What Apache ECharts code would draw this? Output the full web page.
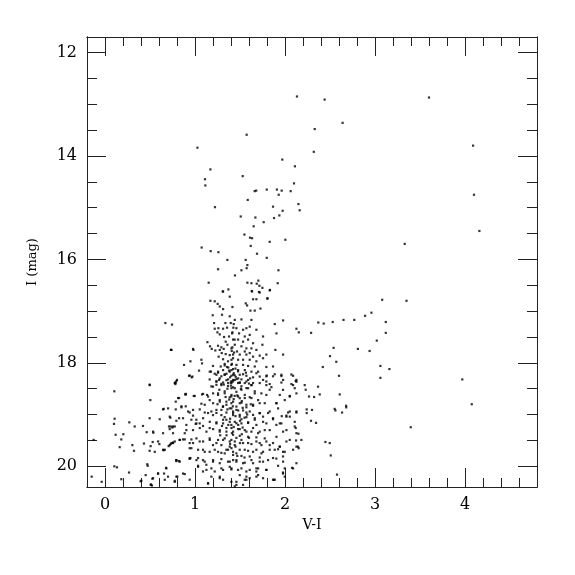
<!DOCTYPE html>
<html><head><meta charset="utf-8">
<script src="https://cdn.jsdelivr.net/npm/echarts@6/dist/echarts.min.js"></script>
<style>html,body{margin:0;padding:0;background:#fff}#c{width:575px;height:575px}</style>
</head><body><div id="c"></div>
<script>
// Tick labels
const xTicks = [0, 1, 2, 3, 4];
const yTicks = [12, 14, 16, 18, 20];

// Stars [V-I, I]
const giantBranch = [
[2.133,12.85],[2.44,12.91],[3.60,12.87],[2.64,13.36],[2.33,13.48],[2.32,13.92],[1.574,13.59],[1.027,13.84],
[1.97,14.07],[2.11,14.2],[1.171,14.26],[1.111,14.45],[1.115,14.57],[1.53,14.39],[2.10,14.53],[1.663,14.68],
[1.68,14.67],[1.797,14.65],[1.91,14.65],[1.963,14.67],[2.063,14.68],[1.93,14.75],[1.586,14.85],[2.149,14.93],
[2.163,15.05],[1.222,14.99],[1.867,14.98],[1.974,15.06],[1.508,15.17],[1.671,15.19],[1.937,15.15],[1.878,15.2],
[1.763,15.28],[1.652,15.36],[1.549,15.52],[1.611,15.58],[1.634,15.59],[1.83,15.66],[2.004,15.62],[1.619,15.74],
[1.074,15.77],[1.174,15.84],[1.26,15.86],[1.689,15.89],[1.797,15.97],[1.36,16.01],[1.563,16.01],[1.582,16.11],
[1.574,16.17],[1.256,16.19],[1.516,16.21],[1.927,16.21],[1.444,16.31],[1.152,16.45],[1.582,16.45],[1.627,16.46],
[1.686,16.47],[1.704,16.41],[1.716,16.51],[1.919,16.46],[1.749,16.55],[1.371,16.58],[1.308,16.62],[1.63,16.61],
[1.711,16.63],[1.833,16.59],[1.804,16.76],[4.09,13.8],[4.10,14.75],[4.16,15.45],[3.33,15.7],[3.35,16.8]
];

const redClump = [
[2.29,17.42],[2.37,17.22],[2.43,17.24],[2.53,17.21],[2.65,17.17],[2.77,17.17],[2.89,17.09],[2.96,17.03],
[3.08,16.78],[3.12,17.21],[3.12,17.42],[3.02,17.57],[2.94,17.77],[2.54,17.71],[2.50,17.87],[2.57,17.98],
[2.42,18.08],[3.06,18.06],[3.06,18.29],[3.16,18.12],[2.81,17.73],[2.60,18.25],[2.23,18.52],
[2.608,18.61],[2.552,18.89],[2.56,18.92],[2.634,18.96],[2.679,18.83],[2.68,18.86],[2.449,19.53],[2.497,19.55],
[2.508,19.79],[2.578,20.16],[3.397,19.245],[4.075,18.80],[3.97,18.32],[2.367,18.46],[2.386,18.61],[2.323,18.66],
[2.267,18.65],[2.219,18.43],[2.241,18.90],[2.241,18.97],[2.30,18.91],[2.289,19.12],[2.345,19.16],[2.078,20.03],
[1.978,20.12],[1.875,20.26],[2.152,19.65],[2.182,19.49],[2.123,19.50],[2.119,19.26],[2.149,19.37],[2.071,18.41],
[2.119,18.35],[1.964,19.03],[2.015,19.02]
];

const coreUpperLeft = [
[1.312,16.62],[1.386,16.72],[1.171,16.80],[1.219,16.81],[1.252,16.86],[1.275,16.91],[1.312,16.96],[1.197,17.08],
[1.300,17.07],[1.386,17.10],[1.212,17.23],[0.745,17.26],[0.671,17.23],[1.338,17.23],[1.430,17.25],[1.356,17.32],
[1.219,17.34],[1.260,17.33],[1.312,17.34],[1.426,17.32],[1.249,17.41],[1.275,17.45],[1.412,17.43],[1.378,17.49],
[1.323,17.50],[1.441,17.55],[1.138,17.60],[1.341,17.59],[1.360,17.65],[1.167,17.68],[1.256,17.67],[1.293,17.70],
[1.415,17.70],[1.186,17.73],[1.226,17.76],[1.275,17.75],[1.319,17.73],[0.738,17.75],[0.982,17.75],[1.408,17.77],
[1.297,17.81],[1.341,17.83],[1.386,17.85],[1.434,17.80],[1.263,17.88],[1.312,17.93],[1.423,17.91],[1.071,17.94],
[1.078,18.01],[0.949,17.97],[0.878,18.04],[1.367,17.97],[1.200,18.06],[1.404,18.04],[1.330,18.02],[1.286,18.07],
[1.356,18.08],[1.178,18.17],[1.256,18.17],[1.312,18.14],[1.378,18.15],[1.423,18.12],[1.045,18.15],[1.238,18.23],
[1.330,18.23],[1.404,18.25],[0.934,18.25],[0.963,18.28],[0.800,18.33],[0.782,18.39],[1.163,18.32],[1.275,18.30],
[1.367,18.32],[1.423,18.33],[1.238,18.36],[1.312,18.38],[1.267,18.33],[1.397,18.38]
];

const coreUpperRight = [
[1.634,16.62],[1.719,16.64],[1.830,16.60],[1.564,16.85],[1.579,16.89],[1.645,16.77],[1.682,16.77],[1.616,16.99],
[1.664,16.99],[1.727,16.95],[1.805,16.75],[1.416,16.92],[1.516,17.16],[1.627,17.17],[1.442,17.17],[1.397,17.23],
[1.886,17.25],[1.979,17.18],[2.127,17.34],[2.153,17.41],[1.460,17.33],[1.534,17.36],[1.571,17.33],[1.608,17.30],
[1.682,17.36],[1.416,17.41],[1.490,17.43],[1.553,17.49],[1.608,17.46],[1.905,17.43],[1.756,17.49],[1.423,17.55],
[1.479,17.55],[1.534,17.59],[1.590,17.55],[1.645,17.62],[1.749,17.65],[1.442,17.65],[1.516,17.68],[1.571,17.72],
[1.405,17.72],[1.627,17.72],[1.467,17.78],[1.553,17.78],[1.608,17.81],[1.682,17.75],[1.893,17.75],[1.423,17.84],
[1.497,17.84],[1.571,17.84],[1.645,17.88],[1.719,17.86],[1.793,17.84],[1.979,17.84],[1.405,17.94],[1.479,17.94],
[1.534,17.94],[1.608,17.94],[1.682,17.97],[1.756,17.91],[1.460,18.04],[1.534,18.04],[1.590,18.06],[1.664,18.07],
[1.793,18.08],[1.867,18.07],[1.405,18.14],[1.479,18.14],[1.553,18.14],[1.627,18.17],[1.701,18.17],[1.423,18.23],
[1.497,18.23],[1.571,18.25],[1.645,18.28],[1.793,18.26],[1.867,18.26],[1.960,18.23],[2.090,18.25],[1.442,18.33],
[1.516,18.32],[1.590,18.33],[1.756,18.33],[1.979,18.33],[2.127,18.33],[1.405,18.39],[1.479,18.39],[1.553,18.39],
[1.645,18.39],[1.830,18.41]
];

const coreLowerLeft = [
[0.775,18.39],[0.893,18.61],[0.986,18.64],[1.078,18.61],[1.134,18.62],[1.200,18.46],[1.238,18.36],[1.293,18.43],
[1.367,18.39],[1.404,18.49],[1.330,18.55],[1.256,18.59],[1.163,18.72],[1.071,18.79],[1.108,18.81],[0.849,18.84],
[0.897,18.84],[0.786,18.90],[0.941,18.96],[0.978,19.02],[1.015,19.10],[1.275,18.72],[1.349,18.75],[1.404,18.65],
[1.312,18.84],[1.238,18.91],[1.386,18.88],[1.200,19.01],[1.145,18.97],[1.293,19.01],[1.423,18.97],[1.349,19.10],
[0.823,19.07],[0.730,19.23],[0.756,19.23],[1.008,19.18],[1.052,19.17],[1.089,19.22],[1.238,19.15],[1.312,19.17],
[1.404,19.20],[1.163,19.26],[1.275,19.30],[1.349,19.33],[0.904,19.30],[0.886,19.36],[0.756,19.36],[0.738,19.55],
[0.775,19.52],[0.830,19.49],[0.867,19.48],[0.960,19.48],[0.978,19.55],[1.052,19.52],[1.163,19.46],[1.256,19.49],
[1.330,19.46],[1.404,19.49],[1.200,19.59],[1.293,19.59],[1.386,19.62],[0.941,19.65],[1.089,19.68],[1.163,19.72],
[1.256,19.72],[1.349,19.68],[1.423,19.72],[0.793,19.88],[0.823,19.90],[0.949,19.84],[1.034,19.84],[1.089,19.88],
[1.200,19.91],[1.275,19.94],[1.367,19.91],[1.423,19.88],[1.126,19.97],[1.034,19.99],[0.886,20.15],[1.312,20.07],
[1.404,20.06],[1.182,20.04],[1.089,20.10],[1.275,20.20],[1.182,20.20],[0.775,20.28],[0.793,20.20],[1.312,20.26],
[1.145,20.33],[1.404,20.30]
];

const coreLowerRight = [
[1.423,18.36],[1.497,18.38],[1.571,18.36],[1.627,18.43],[1.719,18.39],[1.793,18.36],[1.960,18.38],[2.090,18.43],
[1.442,18.49],[1.516,18.52],[1.590,18.49],[1.664,18.55],[1.738,18.59],[1.830,18.52],[1.942,18.62],[2.053,18.64],
[2.127,18.59],[1.405,18.62],[1.479,18.65],[1.553,18.68],[1.627,18.68],[1.701,18.72],[1.775,18.78],[1.905,18.78],
[1.423,18.75],[1.497,18.78],[1.571,18.81],[1.645,18.83],[1.405,18.88],[1.460,18.91],[1.534,18.92],[1.608,18.94],
[1.719,18.97],[1.812,18.97],[2.053,18.94],[2.127,18.96],[1.423,19.01],[1.497,19.04],[1.571,19.05],[1.664,19.07],
[1.756,19.04],[1.867,19.07],[2.016,19.04],[1.442,19.14],[1.516,19.17],[1.590,19.16],[1.682,19.20],[1.793,19.17],
[1.942,19.17],[2.108,19.14],[1.405,19.26],[1.479,19.28],[1.553,19.30],[1.627,19.33],[1.719,19.33],[1.830,19.30],
[1.979,19.33],[2.127,19.36],[1.423,19.39],[1.497,19.41],[1.590,19.43],[1.682,19.44],[1.775,19.46],[1.905,19.43],
[2.053,19.49],[1.442,19.52],[1.534,19.55],[1.627,19.57],[1.719,19.55],[1.830,19.59],[1.942,19.62],[2.145,19.62],
[1.405,19.65],[1.497,19.68],[1.590,19.70],[1.682,19.68],[1.756,19.72],[1.886,19.68],[1.979,19.72],[1.423,19.78],
[1.516,19.80],[1.608,19.81],[1.719,19.83],[1.867,19.84],[1.460,19.91],[1.553,19.93],[1.645,19.94],[1.756,19.91],
[1.979,19.91],[1.405,20.04],[1.516,20.04],[1.608,20.07],[1.701,20.04],[1.497,20.17],[1.571,20.20],[1.682,20.10],
[1.793,20.07],[1.923,19.99],[1.997,20.04],[2.127,19.94],[1.460,20.30],[1.553,20.26],[1.608,20.23],[1.756,20.23],
[1.867,20.26],[1.997,20.20],[1.442,20.39],[1.534,20.36]
];

const coreExtra = [
[1.164,18.17],[1.219,18.21],[1.256,18.19],[1.293,18.26],[1.330,18.225],[1.386,18.17],[1.431,18.20],[1.453,18.27],
[1.478,18.165],[1.534,18.22],[1.566,18.19],[1.612,18.30],[1.682,18.20],[1.719,18.265],[1.797,18.245],[1.886,18.22],
[1.960,18.255],[2.071,18.225],[2.127,18.365],[0.941,18.245],[0.971,18.265],[0.793,18.355],[0.782,18.41],[1.349,18.335],
[1.404,18.355],[1.462,18.315],[1.497,18.385],[1.182,18.455],[1.238,18.425],[1.293,18.405],[1.367,18.448],[1.423,18.472],
[1.516,18.452],[1.571,18.488],[1.627,18.43],[1.793,18.43],[1.849,18.47],[1.978,18.522],[2.108,18.49],[0.897,18.60],
[0.997,18.64],[1.090,18.60],[1.145,18.652],[1.201,18.59],[1.256,18.62],[1.330,18.588],[1.386,18.665],[1.441,18.638],
[1.497,18.683],[1.553,18.62],[1.608,18.664],[1.664,18.59],[1.793,18.62],[1.904,18.78],[1.997,18.72],[2.053,18.65],
[0.786,18.75],[0.823,18.68],[1.201,18.78],[1.275,18.75],[1.349,18.81],[1.404,18.78],[1.460,18.845],[1.516,18.77],
[1.571,18.858],[1.645,18.81],[1.719,18.78],[0.701,18.88],[0.645,18.90],[0.849,18.86],[0.923,18.94],[0.978,18.91],
[1.053,18.90],[1.108,18.96],[1.182,18.94],[1.238,18.968],[1.293,18.91],[1.349,18.96],[1.423,18.94],[1.497,19.006],
[1.571,18.96],[1.645,19.006],[1.719,18.974],[1.830,18.94],[1.923,18.88],[2.034,18.96],[2.127,18.94],[0.608,19.09],
[0.719,19.04],[0.793,19.12],[0.867,19.07],[0.960,19.10],[1.016,19.17],[1.090,19.07],[1.164,19.14],[1.238,19.17],
[1.312,19.10],[1.386,19.14],[1.460,19.167],[1.516,19.09],[1.590,19.15],[1.664,19.10],[1.756,19.14],[1.867,19.09],
[1.960,19.17],[2.053,19.04],[0.534,19.33],[0.645,19.36],[0.719,19.28],[0.775,19.23],[0.904,19.20],[0.978,19.30],
[1.053,19.26],[1.127,19.33],[1.201,19.28],[1.275,19.33],[1.349,19.26],[1.423,19.33],[1.497,19.28],[1.571,19.33],
[1.645,19.26],[1.701,19.36],[1.775,19.30],[1.904,19.20],[2.016,19.30],[2.108,19.23],[0.590,19.52],[0.664,19.68],
[0.719,19.59],[0.756,19.55],[0.830,19.49],[0.886,19.48],[0.941,19.55],[1.016,19.46],[1.090,19.52],[1.164,19.49],
[1.238,19.55],[1.312,19.49],[1.386,19.52],[1.441,19.59],[1.516,19.49],[1.590,19.55],[1.682,19.52],[1.738,19.59],
[1.793,19.52],[1.867,19.55],[1.941,19.62],[2.016,19.52],[2.127,19.62],[0.553,19.72],[0.645,19.68],[0.960,19.65],
[1.034,19.68],[1.108,19.72],[1.219,19.68],[1.293,19.74],[1.367,19.68],[1.460,19.75],[1.553,19.68],[1.645,19.72],
[1.738,19.75],[1.830,19.68],[1.923,19.67],[1.997,19.72],[2.090,19.68],[0.793,19.88],[0.830,19.91],[0.941,19.85],
[1.016,19.88],[1.108,19.91],[1.201,19.88],[1.293,19.86],[1.386,19.91],[1.460,19.88],[1.534,19.94],[1.627,19.88],
[1.719,19.91],[1.812,19.88],[1.904,19.85],[1.978,19.81],[0.682,20.04],[0.590,20.14],[0.867,20.14],[1.034,20.01],
[1.127,20.07],[1.219,20.10],[1.293,20.04],[1.386,20.01],[1.478,20.07],[1.571,20.10],[1.682,20.04],[1.701,20.17],
[1.793,20.07],[1.886,20.26],[1.978,20.14],[2.090,20.04],[0.534,20.23],[0.664,20.26],[0.775,20.30],[0.941,20.26],
[1.145,20.33],[1.275,20.23],[1.460,20.36],[1.571,20.26],[1.682,20.20]
];

const coreDense = [
[1.33,18.05],[1.37,18.09],[1.41,18.02],[1.45,18.11],[1.35,18.21],[1.39,18.28],[1.44,18.24],[1.48,18.30],
[1.32,18.42],[1.36,18.50],[1.40,18.44],[1.46,18.56],[1.51,18.50],[1.34,18.66],[1.38,18.71],[1.43,18.70],
[1.47,18.63],[1.52,18.74],[1.31,18.85],[1.36,18.90],[1.42,18.84],[1.48,18.92],[1.53,18.87],[1.33,19.05],
[1.39,19.08],[1.45,19.03],[1.50,19.12],[1.55,19.06],[1.30,19.22],[1.37,19.20],[1.43,19.24],[1.48,19.20],
[1.53,19.25],[1.35,19.40],[1.41,19.36],[1.46,19.45],[1.52,19.38],[1.39,19.57],[1.45,19.62],[1.50,19.55],
[1.33,19.75],[1.47,19.80],[1.55,19.83],[1.60,18.40],[1.62,18.80],[1.58,19.00],[1.60,19.45],[1.27,18.52],
[1.25,18.80],[1.28,19.40]
];

const blueSide = [
[0.733,17.75],[0.496,18.42],[0.104,18.55],[0.504,18.72],[0.652,18.89],[0.107,19.08],[0.100,19.18],[0.270,19.15],
[0.496,19.07],[0.330,19.23],[0.422,19.22],[0.726,19.06],[0.711,19.23],[0.748,19.25],[0.118,19.39],[0.204,19.38],
[0.463,19.34],[0.537,19.35],[0.181,19.48],[0.163,19.63],[0.304,19.59],[0.322,19.70],[0.433,19.56],[0.530,19.53],
[0.507,19.61],[0.496,19.70],[0.604,19.57],[0.652,19.69],[0.707,19.61],[0.730,19.57],[0.756,19.54],[-0.126,19.49],
[0.104,20.00],[0.133,20.02],[0.470,19.96],[0.474,19.99],[0.678,20.03],[0.267,20.12],[0.452,20.17],[0.526,20.24],
[0.656,20.14],[0.589,20.14],[0.181,20.25],[-0.148,20.20],[-0.037,20.30],[0.396,20.29],[0.511,20.35],[0.522,20.37],
[0.700,20.20],[0.497,18.43],[0.782,18.38],[0.897,18.61],[0.812,18.68],[0.804,20.20],[0.793,19.90],[0.941,19.85],
[0.404,20.28],[0.508,20.36],[0.978,17.73],[0.734,17.75]
];

const groups = [giantBranch, redClump, coreUpperLeft, coreUpperRight, coreLowerLeft, coreLowerRight, coreExtra, coreDense, blueSide];

const FONT = 'DejaVu Serif';
const AX = '#222';
const xMinor = [], yMinor = [];
for (let i = 0; i <= 24; i++) xMinor.push(Math.round(i * 2) / 10);
for (let i = 0; i <= 16; i++) yMinor.push(12 + i * 0.5);

function xAxisDef(pos, ticks, len, labels) {
  return {
    type: 'value', position: pos, min: -0.2, max: 4.8, gridIndex: 0,
    axisLine: { show: true, onZero: false, lineStyle: { color: AX, width: 1 } },
    axisTick: { show: true, inside: true, length: len, customValues: ticks, lineStyle: { color: AX, width: 1 } },
    axisLabel: labels ? { show: true, customValues: ticks, margin: 10, fontFamily: FONT, fontSize: 16, color: '#000' } : { show: false },
    splitLine: { show: false }
  };
}
function yAxisDef(pos, ticks, len, labels) {
  return {
    type: 'value', position: pos, min: 11.7, max: 20.4, inverse: true, gridIndex: 0,
    axisLine: { show: true, onZero: false, lineStyle: { color: AX, width: 1 } },
    axisTick: { show: true, inside: true, length: len, customValues: ticks, lineStyle: { color: AX, width: 1 } },
    axisLabel: labels ? { show: true, customValues: ticks, margin: 10, fontFamily: FONT, fontSize: 16, color: '#000' } : { show: false },
    splitLine: { show: false }
  };
}

const xa0 = xAxisDef('bottom', xTicks, 19, true);
xa0.name = 'V-I'; xa0.nameLocation = 'middle'; xa0.nameGap = 30;
xa0.nameTextStyle = { fontFamily: FONT, fontSize: 14, color: '#000' };
const ya0 = yAxisDef('left', yTicks, 19, true);
ya0.name = 'I (mag)'; ya0.nameLocation = 'middle'; ya0.nameGap = 48; ya0.nameRotate = 90;
ya0.nameTextStyle = { fontFamily: FONT, fontSize: 13, color: '#000' };

const points = [];
groups.forEach(g => g.forEach(p => points.push(p)));

const chart = echarts.init(document.getElementById('c'), null, { renderer: 'canvas' });
chart.setOption({
  animation: false,
  backgroundColor: '#fff',
  grid: { left: 87, top: 37, width: 450, height: 450, containLabel: false },
  xAxis: [xa0, xAxisDef('bottom', xMinor, 9, false), xAxisDef('top', xTicks, 19, false), xAxisDef('top', xMinor, 9, false)],
  yAxis: [ya0, yAxisDef('left', yMinor, 10, false), yAxisDef('right', yTicks, 19, false), yAxisDef('right', yMinor, 10, false)],
  series: [{
    type: 'scatter', xAxisIndex: 0, yAxisIndex: 0, symbol: 'rect', symbolSize: 2.2,
    itemStyle: { color: '#000' }, silent: true, data: points
  }]
});
</script></body></html>
